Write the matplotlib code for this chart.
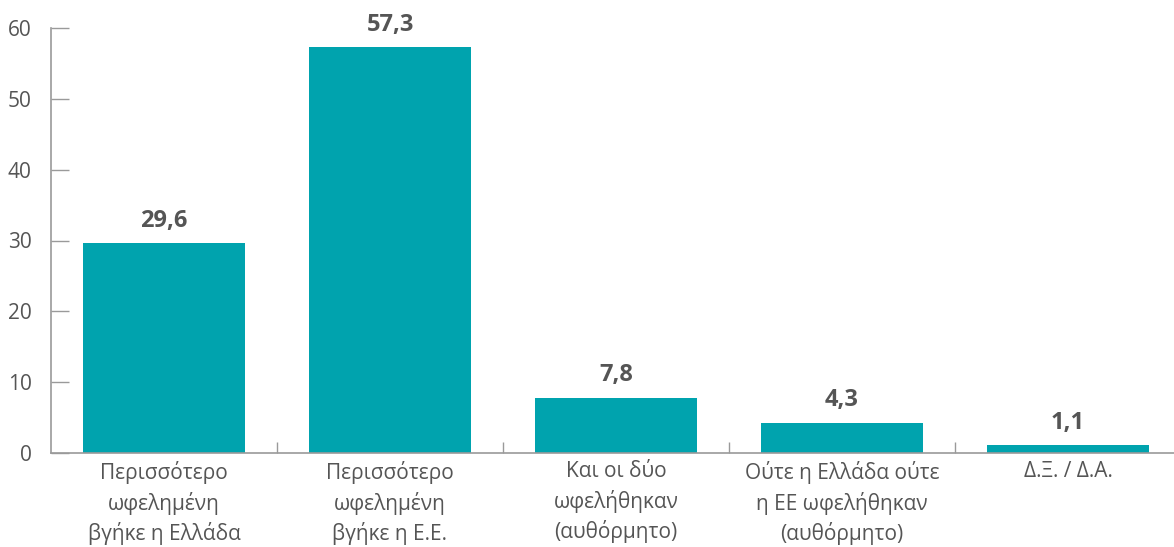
import matplotlib
matplotlib.use('Agg')
import matplotlib.pyplot as plt
import numpy as np

plt.rcParams['font.family'] = ['Open Sans', 'DejaVu Sans']

categories = [
    'Περισσότερο\nωφελημένη\nβγήκε η Ελλάδα',
    'Περισσότερο\nωφελημένη\nβγήκε η Ε.Ε.',
    'Και οι δύο\nωφελήθηκαν\n(αυθόρμητο)',
    'Ούτε η Ελλάδα ούτε\nη ΕΕ ωφελήθηκαν\n(αυθόρμητο)',
    'Δ.Ξ. / Δ.Α.',
]
values = [29.6, 57.3, 7.8, 4.3, 1.1]
value_labels = ['29,6', '57,3', '7,8', '4,3', '1,1']
yticks = [0, 10, 20, 30, 40, 50, 60]

bar_color = '#00A3AE'
axis_color = '#9a9a9a'
text_color = '#555555'

fig = plt.figure(figsize=(11.74, 5.47), dpi=100)
ax = fig.add_axes([51 / 1174, 94 / 547, 1130 / 1174, 425 / 547])

x = np.arange(len(categories))
ax.bar(x, values, width=0.72, color=bar_color, zorder=2)

for xi, v, lab in zip(x, values, value_labels):
    ax.text(xi, v + 1.5, lab, ha='center', va='bottom', fontsize=17,
            fontweight='bold', color=text_color)

ax.set_xlim(-0.5, len(categories) - 0.5)
ax.set_ylim(0, 60)
ax.set_yticks(yticks)
ax.set_yticklabels([str(t) for t in yticks])
ax.tick_params(axis='y', direction='in', length=13, width=1, color=axis_color,
               labelsize=15, labelcolor=text_color, pad=14)

ax.set_xticks(x)
ax.set_xticklabels(categories)
ax.tick_params(axis='x', length=0, labelsize=15, labelcolor=text_color, pad=6)
for lbl in ax.get_xticklabels():
    lbl.set_linespacing(1.42)
ax.set_xticks(np.arange(0.5, len(categories) - 0.5, 1), minor=True)
ax.tick_params(axis='x', which='minor', direction='in', length=8, width=1,
               color=axis_color)

for s in ['top', 'right']:
    ax.spines[s].set_visible(False)
for s in ['left', 'bottom']:
    ax.spines[s].set_color(axis_color)
    ax.spines[s].set_linewidth(1.2)

fig.savefig('out.png', dpi=100)
